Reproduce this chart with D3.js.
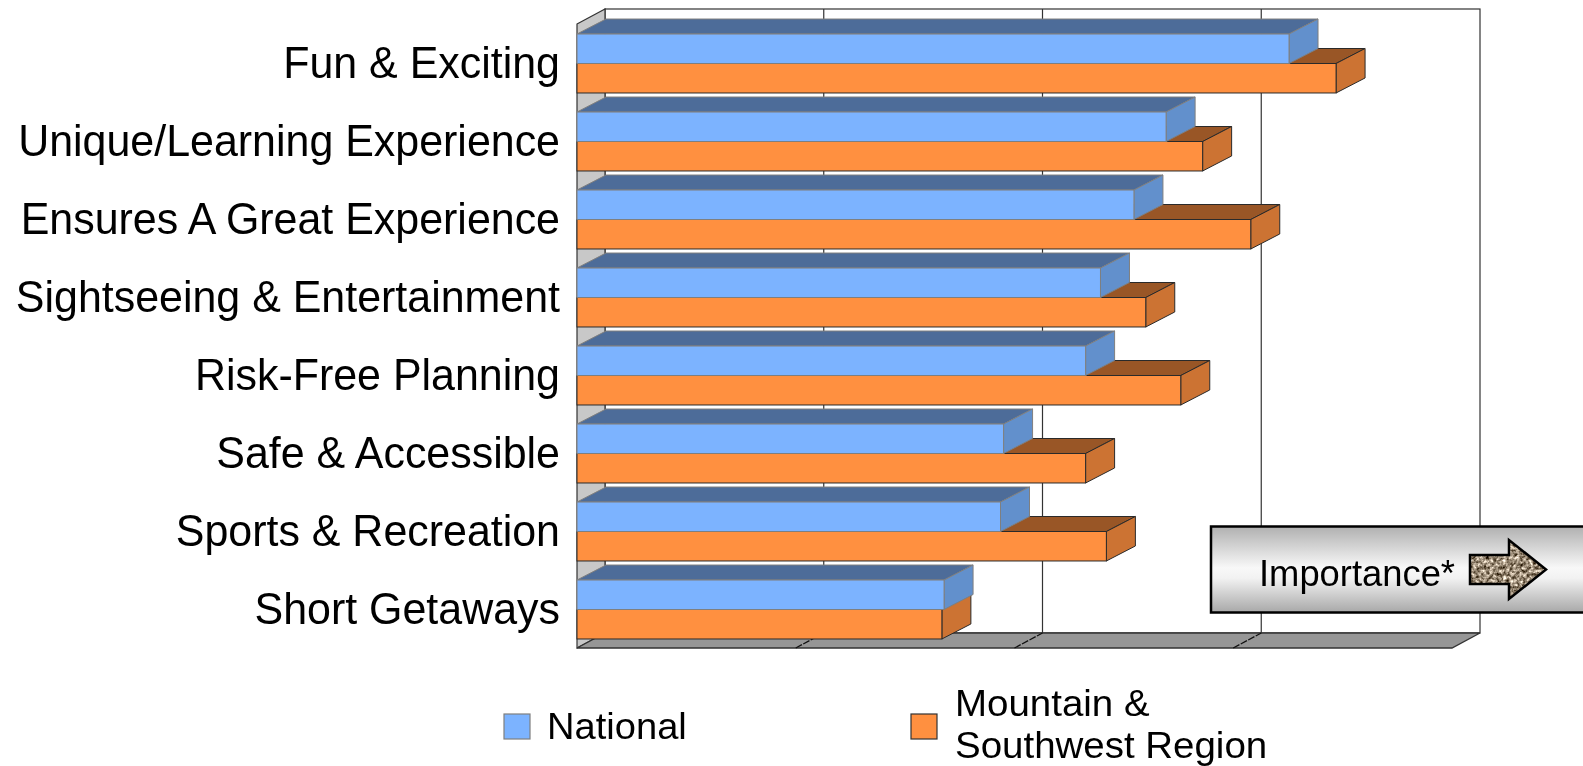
<!DOCTYPE html>
<html><head><meta charset="utf-8">
<script src="https://cdn.jsdelivr.net/npm/d3@7"></script>
<style>html,body{margin:0;padding:0;background:#fff;overflow:hidden}svg{display:block}text{font-family:"Liberation Sans",Arial,sans-serif;fill:#000}</style>
</head><body><svg id="c" width="1583" height="766"></svg>
<script>
const categories=["Fun & Exciting","Unique/Learning Experience","Ensures A Great Experience","Sightseeing & Entertainment","Risk-Free Planning","Safe & Accessible","Sports & Recreation","Short Getaways"];
const seriesNames=["National","Mountain & Southwest Region"];
const national=[3.255,2.693,2.546,2.393,2.325,1.95,1.936,1.678];
const mountain=[3.47,2.86,3.08,2.60,2.76,2.325,2.42,1.668];
const ticks=[0,1,2,3,4];

const DX=28,BAR_DX=29,DY=-15;
const svg=d3.select("#c");
const x=d3.scaleLinear().domain([0,4]).range([577,1452]);
const y=d3.scaleBand().domain(categories).range([24.5,648.5]).paddingInner(0.244).paddingOuter(0.122);
const sub=d3.scaleBand().domain(seriesNames).range([0,y.bandwidth()]);
const top0=9,bottom=648;
const line=d3.line();

const defs=svg.append("defs");
const g=defs.append("linearGradient").attr("id","box").attr("x1",0).attr("x2",0).attr("y1",0).attr("y2",1);
[[0,"#b0b0b0"],[0.48,"#f8f8f8"],[0.6,"#f2f2f2"],[1,"#a8a8a8"]].forEach(d=>g.append("stop").attr("offset",d[0]).attr("stop-color",d[1]));
const f=defs.append("filter").attr("id","stone").attr("x",0).attr("y",0).attr("width","100%").attr("height","100%").attr("color-interpolation-filters","sRGB");
f.append("feTurbulence").attr("type","fractalNoise").attr("baseFrequency",0.3).attr("numOctaves",3).attr("seed",4);
f.append("feColorMatrix").attr("values","1.5 0 0 0 -0.14  1.5 0 0 0 -0.2  1.5 0 0 0 -0.28  0 0 0 0 1");
f.append("feComposite").attr("in2","SourceGraphic").attr("operator","in");
const soft=defs.append("filter").attr("id","soft").attr("x","-2%").attr("y","-10%").attr("width","104%").attr("height","120%");
soft.append("feGaussianBlur").attr("stdDeviation",0.35);

function label(sel,tx,ty,size,sx,str,anchor){
  return sel.append("text").attr("transform",`translate(${tx},${ty}) scale(${sx},1)`).attr("font-size",size).attr("text-anchor",anchor||"start").attr("filter","url(#soft)").text(str);
}

// walls
const bx=x(0)+DX, bxr=x(4)+DX, by=bottom+DY;
svg.append("rect").attr("x",bx).attr("y",top0).attr("width",bxr-bx).attr("height",by-top0).attr("fill","#fff").attr("stroke","#333").attr("stroke-width",1.2);
svg.selectAll(".grid").data(ticks.slice(1,-1)).join("line").attr("x1",d=>x(d)+DX).attr("x2",d=>x(d)+DX).attr("y1",top0).attr("y2",by).attr("stroke","#333").attr("stroke-width",1.2);
svg.append("path").attr("d",line([[x(0),top0-DY],[bx,top0],[bx,by],[x(0),bottom]])+"Z").attr("fill","#c8c8c8").attr("stroke","#333").attr("stroke-width",1.2);
svg.append("path").attr("d",line([[x(0),bottom],[bx,by],[bxr,by],[x(4),bottom]])+"Z").attr("fill","#969696").attr("stroke","#333").attr("stroke-width",1.4);
svg.selectAll(".ft").data(ticks.slice(1,-1)).join("line").attr("x1",d=>x(d)).attr("x2",d=>x(d)+DX).attr("y1",bottom).attr("y2",by).attr("stroke","#111").attr("stroke-width",1.3).attr("stroke-dasharray","7 1.5");

// bars
function bar(parent,val,yTop,h,c){
  const x0=x(0),x1=x(val);
  parent.append("path").attr("d",line([[x0,yTop],[x0+BAR_DX,yTop+DY],[x1+BAR_DX,yTop+DY],[x1,yTop]])+"Z").attr("fill",c.top).attr("stroke",c.stroke);
  parent.append("path").attr("d",line([[x1,yTop],[x1+BAR_DX,yTop+DY],[x1+BAR_DX,yTop+DY+h],[x1,yTop+h]])+"Z").attr("fill",c.side).attr("stroke",c.stroke);
  parent.append("rect").attr("x",x0).attr("y",yTop).attr("width",x1-x0).attr("height",h).attr("fill",c.front).attr("stroke",c.stroke);
}
const blue={front:"#7cb3ff",top:"#4d6c99",side:"#6290cc",stroke:"#7f7f7f"};
const orange={front:"#ff9040",top:"#995626",side:"#cc7333",stroke:"#2a2a2a"};
categories.forEach((cat,i)=>{
  const gr=svg.append("g");
  bar(gr,mountain[i],y(cat)+sub(seriesNames[1]),sub.bandwidth(),orange);
  bar(gr,national[i],y(cat)+sub(seriesNames[0]),sub.bandwidth(),blue);
});

// category labels
categories.forEach(c=>label(svg,560,y(c)+y.bandwidth()/2+14.5,44.5,0.965,c,"end"));

// importance box
svg.append("rect").attr("x",1211).attr("y",526.5).attr("width",390).attr("height",86).attr("fill","url(#box)").attr("stroke","#000").attr("stroke-width",2.5);
label(svg,1259,585.5,37,0.983,"Importance*");
const arrowPts=[[1470,555],[1509,555],[1509,540],[1546,569.5],[1509,599],[1509,584],[1470,584]];
svg.append("path").attr("d",line(arrowPts)+"Z").attr("fill","#a08c78").attr("filter","url(#stone)");
svg.append("path").attr("d",line(arrowPts)+"Z").attr("fill","none").attr("stroke","#000").attr("stroke-width",2.5);

// legend
svg.append("rect").attr("x",504).attr("y",714).attr("width",26).attr("height",25).attr("fill",blue.front).attr("stroke",blue.stroke).attr("stroke-width",1.2);
svg.append("rect").attr("x",911).attr("y",714).attr("width",26).attr("height",25).attr("fill",orange.front).attr("stroke","#333").attr("stroke-width",1.2);
label(svg,547,739,37,1.03,seriesNames[0]);
label(svg,955,716,37,1.04,"Mountain &");
label(svg,955,758,37,1.04,"Southwest Region");
</script></body></html>
